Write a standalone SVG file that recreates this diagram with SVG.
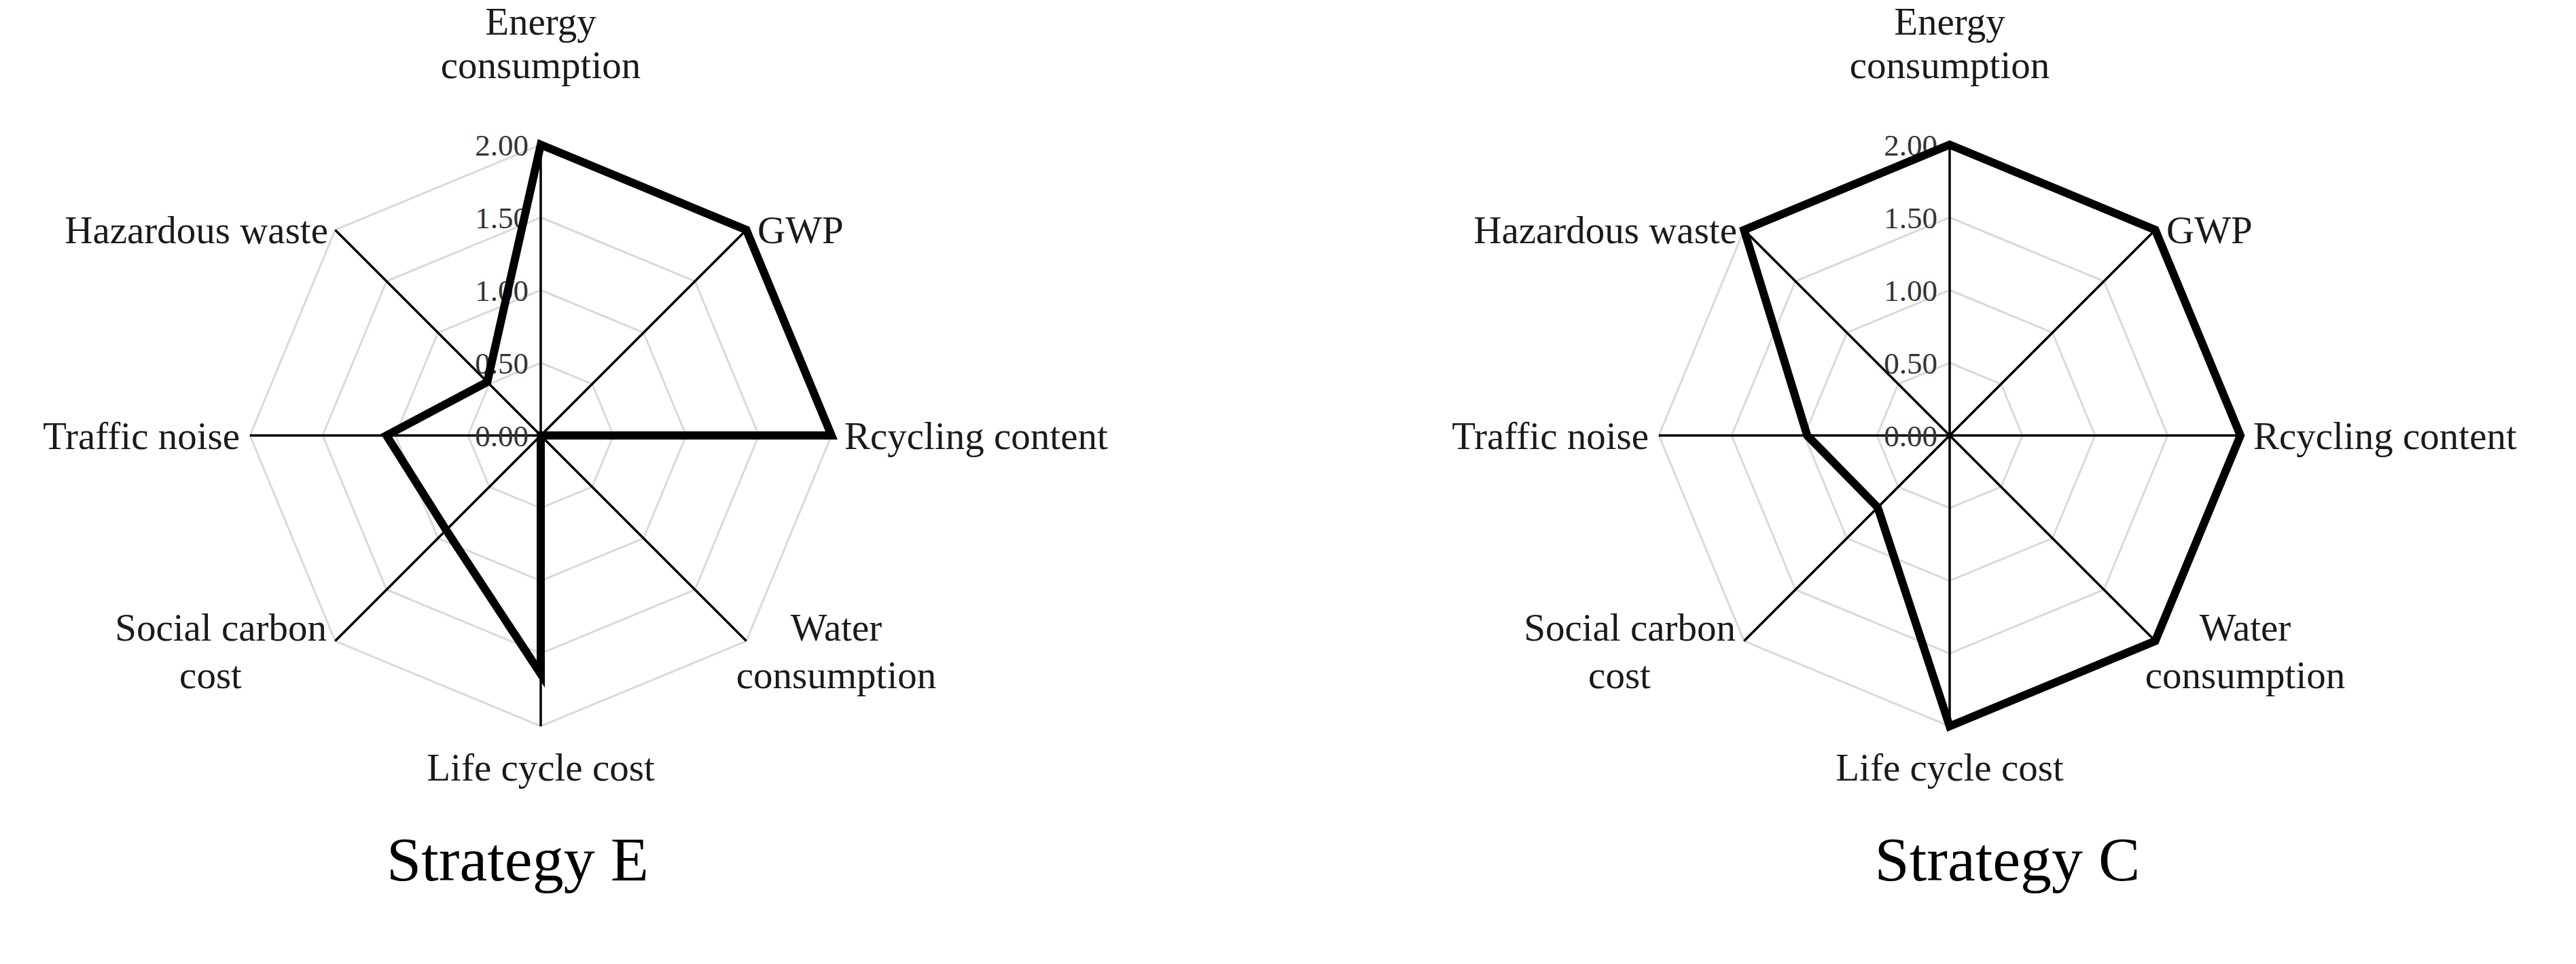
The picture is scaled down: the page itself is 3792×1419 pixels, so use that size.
<svg xmlns="http://www.w3.org/2000/svg" width="3792" height="1419" viewBox="0 0 3792 1419">
<style>
.ring{fill:none;stroke:#d9d9d9;stroke-width:3}
.ax{stroke:#000;stroke-width:3.5}
.data{fill:none;stroke:#000;stroke-width:12;stroke-linejoin:miter}
text{font-family:"Liberation Serif","Times New Roman",serif;fill:#1a1a1a}
.lb{font-size:57px}
.tk{font-size:45px;text-anchor:end;fill:#333}
.mid{text-anchor:middle}
.end{text-anchor:end}
.title{font-size:92px;text-anchor:middle;fill:#000}
</style>
<defs>
<g id="grid">
<polygon class="ring" points="0,-107 75.7,-75.7 107,0 75.7,75.7 0,107 -75.7,75.7 -107,0 -75.7,-75.7"/>
<polygon class="ring" points="0,-214 151.3,-151.3 214,0 151.3,151.3 0,214 -151.3,151.3 -214,0 -151.3,-151.3"/>
<polygon class="ring" points="0,-321 227,-227 321,0 227,227 0,321 -227,227 -321,0 -227,-227"/>
<polygon class="ring" points="0,-428 302.6,-302.6 428,0 302.6,302.6 0,428 -302.6,302.6 -428,0 -302.6,-302.6"/>
<g class="ax">
<line x1="0" y1="0" x2="0" y2="-428"/><line x1="0" y1="0" x2="302.6" y2="-302.6"/>
<line x1="0" y1="0" x2="428" y2="0"/><line x1="0" y1="0" x2="302.6" y2="302.6"/>
<line x1="0" y1="0" x2="0" y2="428"/><line x1="0" y1="0" x2="-302.6" y2="302.6"/>
<line x1="0" y1="0" x2="-428" y2="0"/><line x1="0" y1="0" x2="-302.6" y2="-302.6"/>
</g>
<text class="tk" x="-18" y="16">0.00</text>
<text class="tk" x="-18" y="-91">0.50</text>
<text class="tk" x="-18" y="-198">1.00</text>
<text class="tk" x="-18" y="-305">1.50</text>
<text class="tk" x="-18" y="-412">2.00</text>
<text class="lb mid" x="0" y="-590">Energy</text>
<text class="lb mid" x="0" y="-526">consumption</text>
<text class="lb" x="319" y="-283">GWP</text>
<text class="lb end" x="-313" y="-283">Hazardous waste</text>
<text class="lb" x="447" y="20">Rcycling content</text>
<text class="lb end" x="-443" y="20">Traffic noise</text>
<text class="lb end" x="-315" y="302">Social carbon</text>
<text class="lb mid" x="-486" y="372">cost</text>
<text class="lb mid" x="435" y="302">Water</text>
<text class="lb mid" x="435" y="372">consumption</text>
<text class="lb mid" x="0" y="508">Life cycle cost</text>
</g>
</defs>
<g id="chartE" transform="translate(796,641)">
<use href="#grid"/>
<polygon class="data" points="0,-428 302.6,-302.6 428,0 0,0 0,351 -139.2,139.2 -227,0 -78.7,-78.7"/>
</g>
<g id="chartC" transform="translate(2870,641)">
<use href="#grid"/>
<polygon class="data" points="0,-428 302.6,-302.6 428,0 302.6,302.6 0,428 -105.9,105.9 -209.7,0 -302.6,-302.6"/>
</g>
<text id="titleE" class="title" x="762" y="1296">Strategy E</text>
<text id="titleC" class="title" x="2955" y="1296">Strategy C</text>
</svg>
